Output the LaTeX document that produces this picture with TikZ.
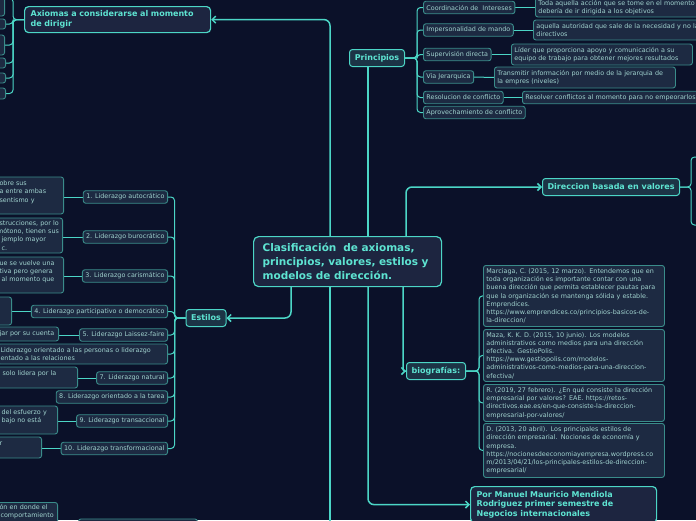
\documentclass[tikz,border=0pt]{standalone}
\usepackage{fontspec}
\setmainfont{DejaVu Sans}
\usetikzlibrary{arrows.meta,calc}
\definecolor{bgC}{HTML}{0B1129}
\definecolor{lineC}{HTML}{4CD6C6}
\definecolor{titleC}{HTML}{5EE4D2}
\definecolor{mainF}{HTML}{1D2540}
\definecolor{lvlF}{HTML}{1C3446}
\definecolor{leafF}{HTML}{1D2A42}
\definecolor{leafB}{HTML}{3A8C8A}
\definecolor{leafT}{HTML}{A0D2CE}
\pgfdeclarelayer{back}
\pgfdeclarelayer{wires}
\pgfsetlayers{back,wires,main}
\begin{document}
\begin{tikzpicture}[x=1pt,y=-1pt,
  mainbox/.style={draw=lineC, line width=1.2pt, fill=mainF, rounded corners=4pt, text=titleC,
    font=\bfseries\fontsize{8}{9.6}\selectfont, align=left, inner xsep=6pt, inner ysep=3pt},
  lvl/.style={draw=lineC, line width=1pt, fill=lvlF, rounded corners=3pt, text=titleC,
    font=\bfseries\fontsize{8}{9.6}\selectfont, inner xsep=5pt, inner ysep=2pt, minimum height=17pt},
  leaf/.style={draw=leafB, line width=0.9pt, fill=leafF, rounded corners=2.5pt, text=leafT,
    font=\fontsize{6.4}{8.2}\selectfont, inner xsep=3pt, inner ysep=2pt, minimum height=12.5pt},
  descbox/.style={leaf, align=left},
  conn/.style={draw=lineC, line width=1.5pt, rounded corners=6pt},
  arr/.style={-{Straight Barb[length=3.5pt,width=7pt]}},
  sub/.style={draw=lineC, line width=1pt, rounded corners=3.5pt}
]
\useasboundingbox (0,0) rectangle (696,520);
\begin{pgfonlayer}{back}
\fill[bgC] (0,0) rectangle (696,520);
\end{pgfonlayer}

% central
\node[mainbox, anchor=north west, minimum width=188pt, minimum height=50pt, text width=170pt,
  inner xsep=9pt, font=\bfseries\fontsize{10.5}{14}\selectfont, rounded corners=5pt] (central) at (253,236)
  {Clasificación~ de axiomas,\\principios, valores, estilos y\\modelos de dirección.};

% axiomas
\node[mainbox, anchor=north west, text width=174pt, minimum height=26pt] (axiomas) at (24,6)
  {Axiomas a considerarse al momento\\de dirigir};
\node[leaf, anchor=east, minimum width=40pt, minimum height=36pt] (a1) at (5,-2) {};
\node[leaf, anchor=east, minimum width=40pt, minimum height=10pt] (a2) at (6,24) {};
\node[leaf, anchor=east, minimum width=40pt, minimum height=20pt] (a3) at (5,45) {};
\node[leaf, anchor=east, minimum width=40pt, minimum height=10pt] (a4) at (6,63) {};
\node[leaf, anchor=east, minimum width=40pt, minimum height=10pt] (a5) at (6,78) {};
\node[leaf, anchor=east, minimum width=40pt, minimum height=11pt] (a6) at (6,93.5) {};

% principios
\node[lvl, anchor=north west, minimum width=55pt] (principios) at (349,49) {Principios};
\node[leaf, anchor=west] (p1) at (423,7.5) {Coordinación de~ Intereses};
\node[leaf, anchor=west] (p2) at (423,30) {Impersonalidad de mando};
\node[leaf, anchor=west] (p3) at (423,54.5) {Supervisión directa};
\node[leaf, anchor=west] (p4) at (423,77) {Via Jerarquica};
\node[leaf, anchor=west] (p5) at (423,97.5) {Resolucion de conflicto};
\node[leaf, anchor=west] (p6) at (423,112.5) {Aprovechamiento de conflicto};
\node[descbox, anchor=west, text width=200pt, minimum height=19pt] (q1) at (535,7.5)
  {Toda aquella acción que se tome en el momento\\debería de ir dirigida a los objetivos};
\node[descbox, anchor=west, text width=200pt, minimum height=20pt] (q2) at (533,30)
  {aquella autoridad que sale de la necesidad y no la\\directivos};
\node[descbox, anchor=west, text width=175pt, minimum height=21pt] (q3) at (511,54.5)
  {Líder que proporciona apoyo y comunicación a su\\equipo de trabajo para obtener mejores resultados};
\node[descbox, anchor=west, text width=175pt, minimum height=21pt] (q4) at (494,77.5)
  {Transmitir información por medio de la jerarquia de\\la empres (niveles)};
\node[descbox, anchor=west, text width=200pt] (q5) at (522,97.5)
  {Resolver conflictos al momento para no empeorarlos};

% direccion
\node[lvl, anchor=north west, minimum width=137pt] (direccion) at (542,178) {Direccion basada en valores};
\coordinate (dA) at (720,157);
\coordinate (dB) at (720,225);

% estilos
\node[lvl, minimum width=40pt] (estilos) at (206,318) {Estilos};
\node[leaf, anchor=east] (e1) at (168,197) {1. Liderazgo autocrático};
\node[leaf, anchor=east] (e2) at (168,237) {2. Liderazgo burocrático};
\node[leaf, anchor=east] (e3) at (168,276) {3. Liderazgo carismático};
\node[leaf, anchor=east] (e4) at (168,311.5) {4. Liderazgo participativo o democrático};
\node[leaf, anchor=east] (e5) at (168,335) {5. Liderazgo Laissez-faire};
\node[descbox, anchor=east, text width=164pt, minimum height=20pt] (e6) at (168,354)
  {Liderazgo orientado a las personas o liderazgo\\entado a las relaciones};
\node[leaf, anchor=east] (e7) at (168,378) {7. Liderazgo natural};
\node[leaf, anchor=east] (e8) at (168,397) {8. Liderazgo orientado a la tarea};
\node[leaf, anchor=east] (e9) at (168,421) {9. Liderazgo transaccional};
\node[leaf, anchor=east] (e10) at (168,448.5) {10. Liderazgo transformacional};

\node[descbox, anchor=east, text width=61pt, minimum height=37pt] (f1) at (64,195.5)
  {\mbox{obre sus}\\\mbox{a entre ambas}\\\mbox{sentismo y}\\\mbox{}};
\node[descbox, anchor=east, text width=60pt, minimum height=35pt] (f2) at (63,235.5)
  {\mbox{strucciones, por lo}\\\mbox{\hspace*{-2.5pt}mótono, tienen sus}\\\mbox{\hspace*{2pt}jemplo mayor}\\\mbox{\hspace*{2pt}c.}};
\node[descbox, anchor=east, text width=61pt, minimum height=36pt] (f3) at (64,275)
  {\mbox{ue se vuelve una}\\\mbox{tiva pero genera}\\\mbox{\hspace*{2pt}al momento que}\\\mbox{}};
\node[descbox, anchor=east, text width=20pt, minimum height=28pt] (f4) at (12,311) {};
\node[descbox, anchor=east, text width=56pt, minimum height=14pt] (f5) at (59,334)
  {\mbox{jar por su cuenta}};
\node[descbox, anchor=east, text width=75pt, minimum height=21pt] (f7) at (78,377.5)
  {\mbox{\hspace*{3pt}solo lidera por la}\\\mbox{}};
\node[descbox, anchor=east, text width=55pt, minimum height=28pt] (f9) at (58,420)
  {\mbox{\hspace*{2pt}del esfuerzo y}\\\mbox{\hspace*{2pt}bajo no está}\\\mbox{}};
\node[descbox, anchor=east, text width=39pt, minimum height=21pt] (f10) at (42,447.5)
  {\mbox{r}\\\mbox{}};

% bottom left
\node[descbox, anchor=north east, text width=55pt] (g1) at (58,502)
  {\mbox{ón en donde el}\\\mbox{\hspace*{1pt}comportamiento}\\\mbox{}\\\mbox{}};
\node[leaf, anchor=north west, minimum width=119pt, minimum height=20pt] (g2) at (78,518.5) {};

% biografias
\node[lvl, anchor=north west, minimum width=59pt] (bio) at (406,362) {biografías:};
\node[descbox, anchor=north west, text width=175pt, minimum height=61pt] (r1) at (483,265)
  {Marciaga, C. (2015, 12 marzo). Entendemos que en\\toda organización es importante contar con una\\buena dirección que permita establecer pautas para\\que la organización se mantenga sólida y estable.\\Emprendices.\\https://www.emprendices.co/principios-basicos-de-\\la-direccion/};
\node[descbox, anchor=north west, text width=175pt, minimum height=52pt] (r2) at (483,329)
  {Maza, K. K. D. (2015, 10 junio). Los modelos\\administrativos como medios para una dirección\\efectiva. GestioPolis.\\https://www.gestiopolis.com/modelos-\\administrativos-como-medios-para-una-direccion-\\efectiva/};
\node[descbox, anchor=north west, text width=175pt, minimum height=37pt] (r3) at (483,384)
  {R. (2019, 27 febrero). ¿En qué consiste la dirección\\empresarial por valores? EAE. https://retos-\\directivos.eae.es/en-que-consiste-la-direccion-\\empresarial-por-valores/};
\node[descbox, anchor=north west, text width=175pt, minimum height=54pt] (r4) at (483,423)
  {D. (2013, 20 abril). Los principales estilos de\\dirección empresarial. Nociones de economía y\\empresa.\\https://nocionesdeeconomiayempresa.wordpress.co\\m/2013/04/21/los-principales-estilos-de-direccion-\\empresarial/};

% por manuel
\node[mainbox, anchor=north west, text width=174pt, minimum height=36pt] (manuel) at (470,486)
  {Por Manuel Mauricio Mendiola\\Rodriguez primer semestre de\\Negocios internacionales};

% connectors
\begin{pgfonlayer}{wires}
\coordinate (cA) at ($(central.north west)+(77,0)$);
\coordinate (cB) at ($(central.north west)+(115,0)$);
\coordinate (cC) at ($(central.north west)+(153,0)$);
\coordinate (cD) at ($(central.south west)+(38,0)$);
\coordinate (cE) at ($(central.south west)+(150,0)$);
\coordinate (cF) at ($(central.south west)+(115,0)$);
\coordinate (cG) at ($(central.south west)+(77,0)$);
\coordinate (offB) at (330,530);
\draw[conn,arr] (cA) |- (axiomas.east);
\draw[conn] (cB) -- (cB |- principios.south);
\draw[conn,arr] (cC) |- (direccion.west);
\draw[conn,arr] (cD) |- (estilos.east);
\draw[conn,arr,rounded corners=2pt] (cE) |- (bio.west);
\draw[conn,arr] (cF) |- (manuel.west);
\draw[conn] (cG) -- (offB);

\foreach \i in {1,...,6} \draw[sub] (axiomas.west) -- ++(-11,0) |- (a\i.east);
\foreach \i in {1,...,6} \draw[sub] (principios.east) -- ++(12,0) |- (p\i.west);
\foreach \i in {1,...,5} \draw[sub] (p\i.east) -- (q\i.west);
\draw[sub] (direccion.east) -- ++(11,0) |- (dA);
\draw[sub] (direccion.east) -- ++(11,0) |- (dB);
\foreach \i in {1,...,10} \draw[sub] (estilos.west) -- ++(-11,0) |- (e\i.east);
\foreach \i in {1,2,3,4,5,7,9,10} \draw[sub] (e\i.west) -- (e\i.west -| f\i.east);
\foreach \i in {1,...,4} \draw[sub] (bio.east) -- ++(13,0) |- (r\i.west);
\end{pgfonlayer}
\end{tikzpicture}
\end{document}
